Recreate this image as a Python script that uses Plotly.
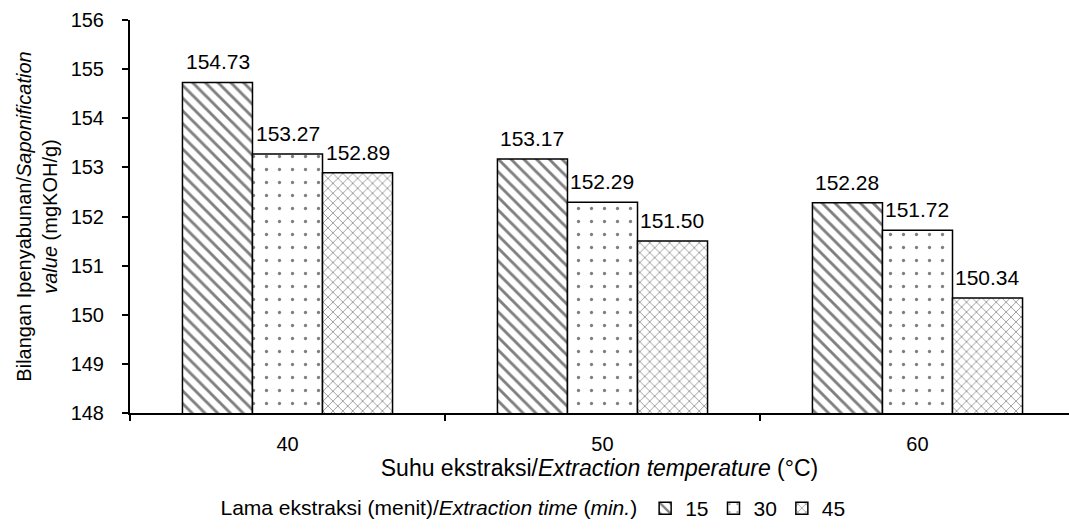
import plotly.graph_objects as go

categories = ["40", "50", "60"]
series_names = ["15", "30", "45"]
values_15 = [154.73, 153.17, 152.28]
values_30 = [153.27, 152.29, 151.72]
values_45 = [152.89, 151.50, 150.34]
y_ticks = [148, 149, 150, 151, 152, 153, 154, 155, 156]

FONT = "Liberation Sans, Arial, sans-serif"
patterns = [
    dict(shape="\\", size=9, solidity=0.32, fgcolor="black", bgcolor="white"),
    dict(shape=".", size=13, solidity=0.05, fgcolor="black", bgcolor="white"),
    dict(shape="x", size=7, solidity=0.2, fgcolor="black", bgcolor="white"),
]
offsets_px = [-70, 0, 70]

fig = go.Figure()
annotations = []
for name, vals, pat, off in zip(series_names, [values_15, values_30, values_45], patterns, offsets_px):
    fig.add_trace(go.Bar(
        x=categories, y=vals, name=name,
        marker=dict(color="white", pattern=pat, line=dict(color="black", width=1.5)),
        cliponaxis=False,
    ))
    for i, v in enumerate(vals):
        annotations.append(dict(
            x=i, y=v, xref="x", yref="y", text=f"{v:.2f}", showarrow=False,
            xshift=off, yanchor="bottom", yshift=7,
            font=dict(family=FONT, size=21, color="black"),
        ))

fig.update_layout(
    width=1069, height=529,
    margin=dict(l=130, r=0, t=20, b=116),
    paper_bgcolor="white", plot_bgcolor="white",
    barmode="group", bargap=0.333, bargroupgap=0,
    font=dict(family=FONT, size=19, color="black"),
    showlegend=True,
    annotations=annotations,
    legend=dict(
        orientation="h", xref="container", yref="container",
        x=0.5, xanchor="center", y=0.0, yanchor="bottom",
        title=dict(text="Lama ekstraksi (menit)/<i>Extraction time</i> (<i>min.</i>)",
                   side="left", font=dict(size=21)),
        font=dict(size=21), itemwidth=30, tracegroupgap=0,
    ),
    xaxis=dict(
        type="category", range=[-0.5, 2.481],
        showline=True, linecolor="black", linewidth=2,
        ticks="outside", tickson="boundaries", ticklen=6, tickwidth=2, tickcolor="black",
        tickfont=dict(size=20), ticklabelstandoff=12,
        title=dict(text="Suhu ekstraksi/<i>Extraction temperature</i> (°C)",
                   font=dict(size=23), standoff=3),
        showgrid=False, zeroline=False,
    ),
    yaxis=dict(
        range=[148, 156], tickvals=y_ticks,
        showline=True, linecolor="black", linewidth=2,
        ticks="outside", ticklen=6, tickwidth=2, tickcolor="black",
        tickfont=dict(size=20), ticklabelstandoff=14,
        title=dict(text="Bilangan Ipenyabunan/<i>Saponification</i><br><i>value</i> (mgKOH/g)",
                   font=dict(size=20), standoff=8),
        showgrid=False, zeroline=False,
    ),
)

fig.write_html("out.html")
